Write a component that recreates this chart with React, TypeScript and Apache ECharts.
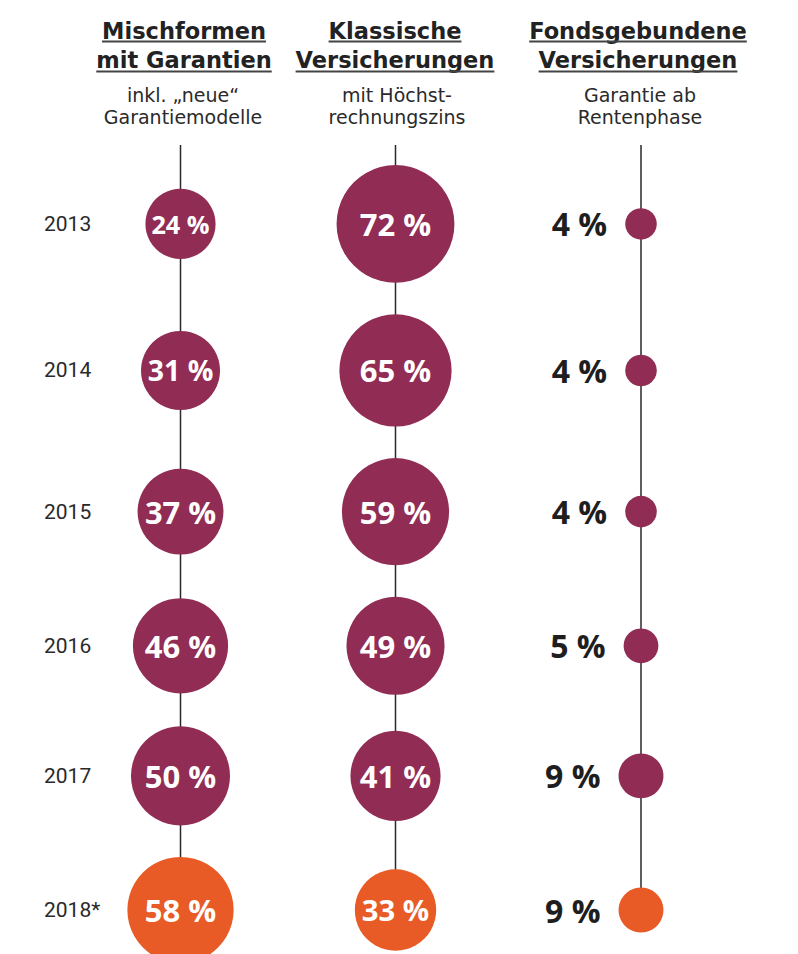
import React, { useEffect, useRef } from "react";
import * as echarts from "echarts";

// ---- data ----
const years = ["2013", "2014", "2015", "2016", "2017", "2018*"];
const mischformen = [24, 31, 37, 46, 50, 58];
const klassische = [72, 65, 59, 49, 41, 33];
const fondsgebunden = [4, 4, 4, 5, 9, 9];
const headerLines = [
  ["Mischformen", "mit Garantien"],
  ["Klassische", "Versicherungen"],
  ["Fondsgebundene", "Versicherungen"],
];
const subLines = [
  ["inkl. \u201Eneue\u201C", "Garantiemodelle"],
  ["mit H\u00F6chst-", "rechnungszins"],
  ["Garantie ab", "Rentenphase"],
];

// ---- layout / style ----
const W = 798;
const H = 954;
const GRID_TOP = 145;
const colCenters = [180.5, 395.5, 641];
const headerCenters = [184, 395, 638];
const subCenters = [183, 397, 640];
const PURPLE = "#912c55";
const ORANGE = "#e85b26";
const HEAD_FONT = "DejaVu Sans";
const LABEL_FONT = "Open Sans";
const SUB_FONT = "DejaVu Sans";
const LIGHT_FONT = "Roboto";

const bubbleSize = (v: number) => 5 + 13.3 * Math.sqrt(v);

export default function App() {
  const ref = useRef<HTMLDivElement>(null);

  useEffect(() => {
    document.body.style.margin = "0";
    if (!ref.current) return;
    const chart = echarts.init(ref.current, null, { renderer: "svg" });

    const columns = [mischformen, klassische, fondsgebunden];
    // row positions derived from bubble sizes (pixels from grid top)
    const rowMax = years.map((_, k) => Math.max(...columns.map((c) => bubbleSize(c[k]))));
    const rowPos: number[] = [];
    rowMax.forEach((m, k) => {
      if (k === 0) rowPos.push(m / 2 + 20);
      else rowPos.push(rowPos[k - 1] + (rowMax[k - 1] + m) / 2 + 31.5);
    });
    const gridH = H - GRID_TOP;

    // text measuring for underlines
    const cv = document.createElement("canvas");
    const ctx = cv.getContext("2d")!;
    const measure = (t: string, font: string) => {
      ctx.font = font;
      return ctx.measureText(t).width;
    };

    const headFontSize = 22.5;
    const headLH = 29;
    const headMid = 45;
    const ulY = [41.5, 71.5];
    const subLH = 22.5;
    const subMid = 105.75;
    const graphic: any[] = [];
    headerLines.forEach((lines, c) => {
      graphic.push({
        type: "text",
        x: headerCenters[c],
        y: headMid,
        style: {
          text: lines.join("\n"),
          fill: "#222",
          align: "center",
          verticalAlign: "middle",
          fontFamily: HEAD_FONT,
          fontWeight: "bold",
          fontSize: headFontSize,
          lineHeight: headLH,
        },
      });
      lines.forEach((t, l) => {
        const w = measure(t, `bold ${headFontSize}px "${HEAD_FONT}"`);
        graphic.push({
          type: "line",
          shape: { x1: headerCenters[c] - w / 2, y1: ulY[l], x2: headerCenters[c] + w / 2, y2: ulY[l] },
          style: { stroke: "#444", lineWidth: 2 },
        });
      });
    });
    subLines.forEach((lines, c) => {
      graphic.push({
        type: "text",
        x: subCenters[c],
        y: subMid,
        style: {
          text: lines.join("\n"),
          fill: "#2a2a2a",
          align: "center",
          verticalAlign: "middle",
          fontFamily: SUB_FONT,
          fontWeight: "normal",
          fontSize: 19,
          lineHeight: subLH,
        },
      });
    });

    const grids = colCenters.map((cx) => ({ left: cx - 50, width: 100, top: GRID_TOP, height: gridH }));
    const xAxes = colCenters.map((_, i) => ({
      gridIndex: i,
      type: "category",
      data: ["c"],
      show: false,
    }));
    const yAxes = colCenters.map((_, i) => ({
      gridIndex: i,
      type: "value",
      min: 0,
      max: gridH,
      inverse: true,
      show: i === 0,
      axisLine: { show: false },
      axisTick: { show: false },
      splitLine: { show: false },
      axisLabel: {
        show: i === 0,
        customValues: rowPos,
        formatter: (v: number) => {
          let best = 0;
          rowPos.forEach((p, k) => {
            if (Math.abs(p - v) < Math.abs(rowPos[best] - v)) best = k;
          });
          return years[best];
        },
        align: "left",
        margin: colCenters[0] - 50 - 44,
        color: "#2a2a2a",
        fontSize: 21,
        fontFamily: LIGHT_FONT,
      },
    }));

    const series: any[] = [];
    columns.forEach((vals, i) => {
      series.push({
        type: "line",
        xAxisIndex: i,
        yAxisIndex: i,
        data: [
          [0, 0],
          [0, rowPos[rowPos.length - 1]],
        ],
        symbol: "none",
        silent: true,
        lineStyle: { color: "#2a2a2a", width: 1.5 },
        z: 1,
      });
      series.push({
        type: "scatter",
        xAxisIndex: i,
        yAxisIndex: i,
        z: 3,
        symbolSize: (val: number[]) => bubbleSize(val[2]),
        itemStyle: { opacity: 1 },
        data: vals.map((v, k) => ({
          value: [0, rowPos[k], v],
          itemStyle: { color: k === years.length - 1 ? ORANGE : PURPLE, opacity: 1 },
          label:
            i === 2
              ? {}
              : { fontSize: Math.min(31, bubbleSize(v) * 0.36) },
        })),
        label:
          i === 2
            ? {
                show: true,
                position: "left",
                distance: 18,
                formatter: (p: any) => `${p.value[2]} %`,
                color: "#1e1e1e",
                fontFamily: LABEL_FONT,
                fontWeight: "bold",
                fontSize: 32,
              }
            : {
                show: true,
                position: "inside",
                formatter: (p: any) => `${p.value[2]} %`,
                color: "#ffffff",
                fontFamily: LABEL_FONT,
                fontWeight: "bold",
                fontSize: 31,
              },
      });
    });

    chart.setOption({
      animation: false,
      backgroundColor: "#fff",
      grid: grids,
      xAxis: xAxes,
      yAxis: yAxes,
      series,
      graphic,
    });

    return () => chart.dispose();
  }, []);

  return <div ref={ref} style={{ width: W, height: H }} />;
}
